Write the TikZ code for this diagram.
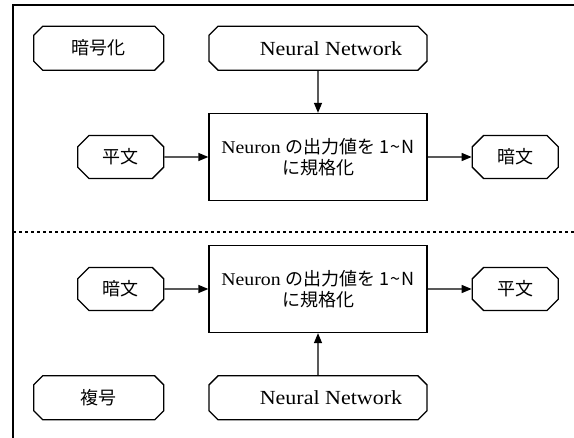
\documentclass[tikz,border=0pt]{standalone}
\usepackage{fontspec}
\setmainfont{Liberation Serif}[FakeStretch=1.1]
\newfontfamily\cjk{Noto Sans CJK JP}
\usetikzlibrary{positioning,shapes.misc,arrows.meta}

\tikzset{every node/.style={draw,line width=1.3pt,inner sep=0pt}}
\tikzstyle{proc}=[rectangle,minimum width=218pt,minimum height=87pt,align=center,font=\fontsize{18}{21}\rmfamily\selectfont]
\tikzstyle{net}=[chamfered rectangle,chamfered rectangle xsep=6pt,minimum width=218pt,minimum height=44pt,font=\fontsize{20}{24}\rmfamily\selectfont]
\tikzstyle{term}=[chamfered rectangle,chamfered rectangle xsep=11pt,minimum width=86pt,minimum height=43pt,font=\fontsize{18}{22}\selectfont\cjk]
\tikzstyle{mode}=[chamfered rectangle,chamfered rectangle xsep=6pt,minimum width=130pt,minimum height=44pt,font=\fontsize{18}{22}\selectfont\cjk]
\tikzstyle{flow}=[-{Triangle[length=10pt,width=8pt]},line width=1.3pt]

\begin{document}
\begin{tikzpicture}[x=1pt,y=-1pt]
\useasboundingbox (0,0) rectangle (574,438);
\draw[line width=1.5pt] (574,5) -- (13,5) -- (13,438);
\draw[line width=1.5pt,dash pattern=on 3pt off 3pt] (13,232) -- (574,232);

% encryption
\node[proc] (convA) at (318,157) {Neuron {\cjk の出力値を 1\kern1pt\textasciitilde\kern1pt N}\\{\cjk に規格化}};
\node[net,above=42pt of convA] (netA) {\hspace*{26pt}Neural Network};
\node[term,left=44pt of convA] (plainA) {平文};
\node[term,right=44pt of convA] (cipherA) {暗文};
\node[mode,left=44pt of netA] (enc) {暗号化};
\draw[flow] (netA) -- (convA);
\draw[flow] (plainA) -- (convA);
\draw[flow] (convA) -- (cipherA);

% decryption
\node[proc] (convB) at (318,289) {Neuron {\cjk の出力値を 1\kern1pt\textasciitilde\kern1pt N}\\{\cjk に規格化}};
\node[net,below=42pt of convB] (netB) {\hspace*{26pt}Neural Network};
\node[term,left=44pt of convB] (cipherB) {暗文};
\node[term,right=44pt of convB] (plainB) {平文};
\node[mode,left=44pt of netB] (dec) {複号};
\draw[flow] (netB) -- (convB);
\draw[flow] (cipherB) -- (convB);
\draw[flow] (convB) -- (plainB);
\end{tikzpicture}
\end{document}
